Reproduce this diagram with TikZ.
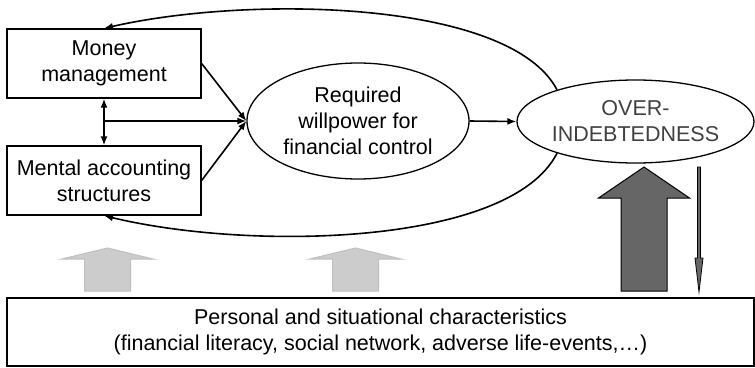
\documentclass[tikz,border=0pt]{standalone}
\usepackage{fontspec}
\setmainfont{Liberation Sans}
\usetikzlibrary{shapes, arrows.meta, positioning}

\begin{document}
\begin{tikzpicture}[
    x=1pt, y=-1pt,
    font=\fontsize{21.5}{26}\selectfont,
    >={Latex[length=9pt,width=7pt]},
    box/.style={rectangle, draw, line width=1.3pt, minimum width=194pt, minimum height=69pt, align=center, inner sep=0pt},
    oval/.style={ellipse, draw, line width=1.3pt, align=center, inner sep=0pt},
    link/.style={->, line width=1.6pt},
    light/.style={fill=black!20, draw=black!25, line width=1pt},
    dark/.style={fill=black!60, draw=black, line width=1pt}
]

\useasboundingbox (0,0) rectangle (755,367);

% Boxes and ovals
\node[box] (money) at (104,63.5) {Money\\management};
\node[box] (mental) at (104,180.5) {Mental accounting\\structures};
\node[oval, minimum width=222pt, minimum height=116pt] (will) at (358,121) {Required\\willpower for\\financial control};
\node[oval, minimum width=237pt, minimum height=83pt, text=black!75] (over) at (635.5,121.5) {OVER-\\INDEBTEDNESS};
\node[box, minimum width=747pt, minimum height=68pt] (base) at (380.5,332) {Personal and situational characteristics\\(financial literacy, social network, adverse life-events,\ldots)};

% Links
\coordinate (split) at (money.south |- will.west);
\draw[link, <->] (money.south) -- (mental.north);
\draw[link] (split) -- (will.west);
\draw[link] (money.east) -- (will.west);
\draw[link] (mental.east) -- (will.west);
\draw[link] (will.east) -- (over.west);

% Feedback loops
\draw[link] (over.158) .. controls (510,0) and (250,-5) .. (money.north);
\draw[link] (over.202) .. controls (510,246) and (250,251) .. (mental.south);

% Block arrows
\foreach \cx/\tip/\neck/\sty in {107.5/248/259/light, 355.5/248/259/light, 644/167/198/dark}
  \draw[\sty] (\cx-23,291) -- (\cx-23,\neck) -- (\cx-45.5,\neck) -- (\cx,\tip)
    -- (\cx+45.5,\neck) -- (\cx+23,\neck) -- (\cx+23,291) -- cycle;
\draw[dark, line width=0.8pt] (697.5,167) -- (700.5,167) -- (700.5,258) -- (703,258)
  -- (699,292) -- (695,258) -- (697.5,258) -- cycle;

\end{tikzpicture}
\end{document}
